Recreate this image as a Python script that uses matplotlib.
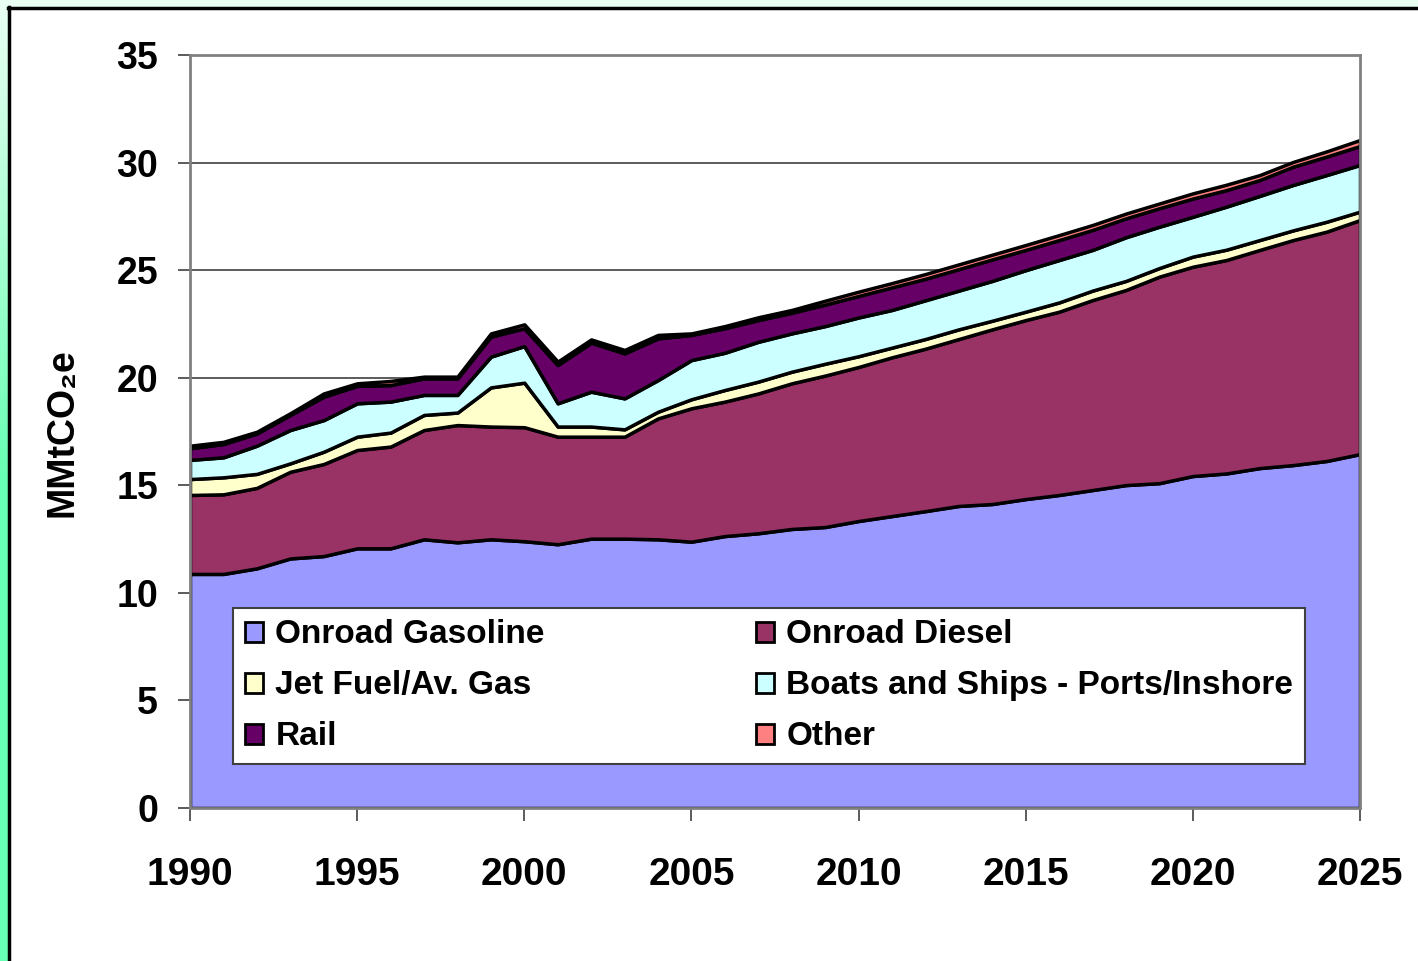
import numpy as np
import matplotlib
matplotlib.use("Agg")
import matplotlib.pyplot as plt
from matplotlib.patches import Rectangle, Patch
from matplotlib.lines import Line2D
from matplotlib.colors import LinearSegmentedColormap

plt.rcParams['font.family'] = ['Liberation Sans', 'DejaVu Sans']
plt.rcParams['font.weight'] = 'bold'

years = list(range(1990, 2026))

gasoline = [10.88, 10.88, 11.14, 11.60, 11.71, 12.07, 12.07, 12.49, 12.35, 12.49,
            12.40, 12.26, 12.52, 12.52, 12.49, 12.38, 12.64, 12.77, 12.97, 13.06,
            13.34, 13.57, 13.80, 14.04, 14.13, 14.36, 14.55, 14.78, 15.01, 15.10,
            15.43, 15.55, 15.80, 15.94, 16.13, 16.45]
diesel = [3.67, 3.70, 3.74, 4.03, 4.28, 4.57, 4.73, 5.08, 5.45, 5.24,
          5.30, 5.00, 4.74, 4.74, 5.62, 6.20, 6.25, 6.50, 6.77, 7.04,
          7.16, 7.38, 7.55, 7.76, 8.12, 8.32, 8.52, 8.83, 9.07, 9.60,
          9.73, 9.92, 10.14, 10.46, 10.66, 10.88]
jet_fuel = [0.74, 0.79, 0.65, 0.39, 0.57, 0.62, 0.65, 0.70, 0.58, 1.82,
            2.07, 0.47, 0.47, 0.34, 0.31, 0.42, 0.54, 0.55, 0.54, 0.55,
            0.50, 0.45, 0.45, 0.45, 0.40, 0.39, 0.43, 0.44, 0.42, 0.40,
            0.47, 0.48, 0.46, 0.45, 0.46, 0.39]
boats = [0.89, 0.93, 1.31, 1.55, 1.47, 1.55, 1.44, 0.93, 0.82, 1.43,
         1.70, 1.08, 1.62, 1.44, 1.47, 1.82, 1.73, 1.85, 1.78, 1.75,
         1.80, 1.75, 1.80, 1.80, 1.85, 1.93, 1.97, 1.89, 2.03, 1.92,
         1.85, 2.00, 2.05, 2.11, 2.17, 2.17]
rail = [0.54, 0.62, 0.57, 0.70, 1.09, 0.81, 0.77, 0.77, 0.77, 0.93,
        0.83, 1.78, 2.28, 2.09, 1.94, 1.17, 1.14, 1.01, 0.96, 1.00,
        1.00, 1.05, 1.00, 1.00, 1.00, 0.94, 0.93, 0.93, 0.88, 0.86,
        0.85, 0.77, 0.74, 0.85, 0.86, 0.88]
other = [0.12, 0.10, 0.08, 0.08, 0.15, 0.12, 0.19, 0.08, 0.08, 0.15,
         0.18, 0.16, 0.15, 0.16, 0.16, 0.07, 0.10, 0.13, 0.13, 0.18,
         0.20, 0.20, 0.22, 0.22, 0.22, 0.23, 0.23, 0.23, 0.22, 0.22,
         0.24, 0.25, 0.23, 0.22, 0.24, 0.28]

labels = ['Onroad Gasoline', 'Onroad Diesel', 'Jet Fuel/Av. Gas',
          'Boats and Ships - Ports/Inshore', 'Rail', 'Other']
colors = ['#9999FF', '#993366', '#FFFFCC', '#CCFFFF', '#660066', '#FF8080']

fig = plt.figure(figsize=(14.18, 9.61), dpi=100)
W, H = 1418, 961

# slide frame: mint top band, green left strip, black border
fig.patches.append(Rectangle((0, 1 - 7 / H), 1, 7 / H, transform=fig.transFigure,
                             facecolor='#E8FFF2', edgecolor='none', zorder=0))
strip = fig.add_axes([0, 0, 8 / W, 1 - 7 / H])
grad = np.linspace(0, 1, 200).reshape(-1, 1)
cmap = LinearSegmentedColormap.from_list('strip', ['#66FFB3', '#66FFB3', '#E8FFF2'])
strip.imshow(grad, aspect='auto', cmap=cmap, origin='lower', extent=[0, 1, 0, 1])
strip.axis('off')
fig.add_artist(Line2D([9 / W, 9 / W], [0, 1 - 7 / H], color='black', lw=2.5,
                      transform=fig.transFigure))
fig.add_artist(Line2D([8 / W, 1], [1 - 8 / H, 1 - 8 / H], color='black', lw=2.5,
                      transform=fig.transFigure))

ax = fig.add_axes([190 / W, (H - 808) / H, (1360 - 190) / W, (808 - 55) / H])
ax.stackplot(years, gasoline, diesel, jet_fuel, boats, rail, other,
             colors=colors, edgecolor='black', linewidth=2.5, zorder=2)

ax.set_xlim(1990, 2025)
ax.set_ylim(0, 35)
ax.set_xticks(range(1990, 2026, 5))
ax.set_yticks(range(0, 36, 5))
ax.yaxis.grid(True, color='#404040', linewidth=1.2, zorder=1)
ax.set_axisbelow(True)
for s in ax.spines.values():
    s.set_color('#808080')
    s.set_linewidth(2)
ax.tick_params(axis='x', direction='out', length=9, width=1.2, color='#404040',
               labelsize=28, pad=26)
ax.tick_params(axis='y', direction='out', length=9, width=1.2, color='#404040',
               labelsize=27, pad=14)
for lab in ax.get_xticklabels() + ax.get_yticklabels():
    lab.set_fontweight('bold')

fig.text(62 / W, 1 - 433 / H, 'MMtCO\u2082e', rotation=90, fontsize=27,
         fontweight='bold', ha='center', va='center')

handles = [Patch(facecolor=c, edgecolor='black', linewidth=2) for c in colors]
order = [0, 2, 4, 1, 3, 5]
leg = ax.legend([handles[i] for i in order], [labels[i] for i in order],
                ncol=2, loc='lower left', mode='expand',
                bbox_to_anchor=(0.0368, 0.0584, 0.916, 0.2165),
                borderaxespad=0,
                prop={'size': 24, 'weight': 'bold'},
                handlelength=0.55, handleheight=0.55, handletextpad=0.37,
                labelspacing=0.6, borderpad=0.35, fancybox=False,
                framealpha=1, edgecolor='#404040')
leg.get_frame().set_linewidth(1.5)

fig.savefig('out.png', dpi=100, facecolor='white')
